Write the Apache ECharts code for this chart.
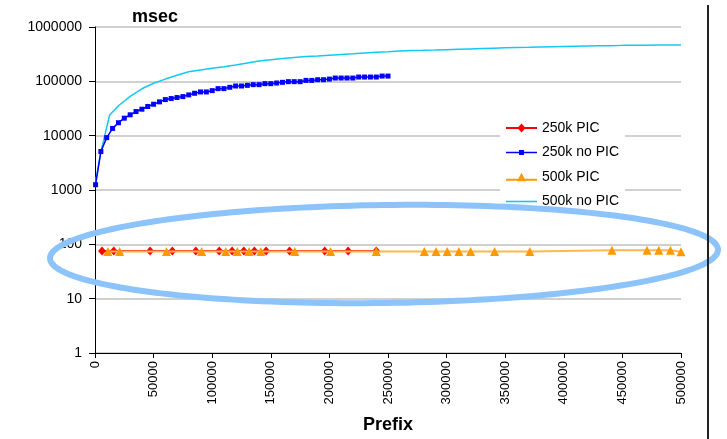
<!DOCTYPE html>
<html>
<head>
<meta charset="utf-8">
<script src="https://cdn.jsdelivr.net/npm/echarts@6/dist/echarts.min.js"></script>
<style>
html,body{margin:0;padding:0;background:#fff;}
#chart{width:727px;height:439px;}
</style>
</head>
<body>
<div id="chart"></div>
<script>
// ---- data ----
var seriesNames = ['250k PIC', '250k no PIC', '500k PIC', '500k no PIC'];
var xTicks = [0, 50000, 100000, 150000, 200000, 250000, 300000, 350000, 400000, 450000, 500000];
var yTicks = [1, 10, 100, 1000, 10000, 100000, 1000000];

var pic250X = [6000, 16000, 47000, 66000, 86000, 106000, 117000, 127000, 136000, 146000, 166000, 196000, 216000, 240000];
var pic250Y = [75, 75, 75, 75, 75, 75, 75, 75, 75, 75, 75, 75, 75, 75];

var noPic250X = [500, 5000, 10000, 15000, 20000, 25000, 30000, 35000, 40000, 45000, 50000, 55000, 60000, 65000, 70000, 75000, 80000, 85000, 90000, 95000, 100000, 105000, 110000, 115000, 120000, 125000, 130000, 135000, 140000, 145000, 150000, 155000, 160000, 165000, 170000, 175000, 180000, 185000, 190000, 195000, 200000, 205000, 210000, 215000, 220000, 225000, 230000, 235000, 240000, 245000, 250000];
var noPic250Y = [1250, 5100, 9200, 13600, 17300, 21000, 24200, 27800, 30700, 34400, 37900, 41900, 46100, 48200, 50300, 52400, 56300, 60300, 63800, 63800, 67400, 73400, 73400, 77600, 82100, 82100, 84400, 86900, 86900, 90600, 90600, 93200, 95800, 98600, 98600, 98600, 104000, 104000, 107000, 107000, 110000, 115000, 115000, 115000, 115000, 120000, 120000, 120000, 120000, 125000, 125000];

var pic500X = [11000, 21000, 61000, 91000, 111500, 121500, 131500, 141500, 170500, 201000, 240000, 281000, 291000, 300500, 310500, 320500, 341000, 371000, 441000, 471000, 481000, 491000, 500000];
var pic500Y = [74, 74, 74, 74, 74, 74, 74, 74, 74, 74, 74, 74, 74, 74, 74, 74, 74, 74, 78, 78, 78, 78, 73];

var noPic500X = [0, 5000, 12500, 20000, 30000, 40000, 50000, 60000, 70000, 80000, 90000, 100000, 110000, 120000, 130000, 140000, 150000, 160000, 170000, 180000, 190000, 200000, 210000, 220000, 230000, 240000, 250000, 260000, 270000, 280000, 290000, 300000, 310000, 320000, 330000, 340000, 350000, 360000, 370000, 380000, 390000, 400000, 410000, 420000, 430000, 440000, 450000, 460000, 470000, 480000, 490000, 500000];
var noPic500Y = [1250, 5000, 24000, 35500, 53000, 73000, 92000, 110000, 129000, 150000, 162000, 174000, 186000, 200000, 218000, 237000, 250000, 262000, 275000, 285000, 293000, 303000, 312000, 321000, 332000, 342000, 350000, 362000, 368000, 372000, 377000, 383000, 389000, 395000, 401000, 407000, 413000, 418000, 422000, 427000, 431000, 436000, 441000, 445000, 450000, 454000, 459000, 461000, 463000, 465000, 467000, 468000];

function zip(xs, ys) { return xs.map(function (x, i) { return [x, ys[i]]; }); }

// annotation ellipse outline (not data), slightly tilted
function ellipsePoints(cx, cy, rx, ry, slope, n) {
  var pts = [];
  var s = Math.sin(Math.atan(slope)), c = Math.cos(Math.atan(slope));
  for (var i = 0; i < n; i++) {
    var a = 2 * Math.PI * i / n;
    var dx = rx * Math.cos(a), dy = ry * Math.sin(a);
    pts.push([cx + dx * c - dy * s, cy + dx * s + dy * c]);
  }
  return pts;
}

// legend icons: line with its marker (bounding box keeps aspect)
var legendIcons = [
  'path://M0,3.6L31,3.6L31,5.4L0,5.4Z M15.5,0L19.5,4.5L15.5,9L11.5,4.5Z',
  'path://M0,1.8L31,1.8L31,3.2L0,3.2Z M13,0L18,0L18,5L13,5Z',
  'path://M0,6L31,6L31,8L0,8Z M15.5,0L20,8.5L11,8.5Z',
  'path://M0,0L31,0L31,1.6L0,1.6Z'
];

var chart = echarts.init(document.getElementById('chart'), null, {renderer: 'canvas'});
var font = 'Liberation Sans, Arial, sans-serif';

chart.setOption({
  animation: false,
  backgroundColor: '#ffffff',
  title: {
    text: 'msec',
    left: 127,
    top: 3,
    textStyle: {fontFamily: font, fontSize: 18, fontWeight: 'bold', color: '#000'}
  },
  legend: {
    orient: 'vertical',
    left: 500,
    top: 115,
    padding: [6, 6, 6, 6],
    backgroundColor: '#ffffff',
    itemWidth: 31,
    itemHeight: 14,
    itemGap: 10.5,
    symbolKeepAspect: true,
    data: seriesNames.map(function (n, i) {
      return {name: n, icon: legendIcons[i]};
    }),
    textStyle: {fontFamily: font, fontSize: 14, color: '#000'}
  },
  grid: {left: 95, right: 46, top: 27, bottom: 84, containLabel: false},
  xAxis: {
    type: 'value',
    min: xTicks[0],
    max: xTicks[xTicks.length - 1],
    interval: xTicks[1] - xTicks[0],
    name: 'Prefix',
    nameLocation: 'middle',
    nameGap: 63,
    nameTextStyle: {fontFamily: font, fontSize: 18, fontWeight: 'bold', color: '#000'},
    axisLine: {lineStyle: {color: '#000', width: 1}},
    axisTick: {show: true, length: 5, lineStyle: {color: '#000'}},
    axisLabel: {rotate: 90, margin: 8, fontFamily: font, fontSize: 13, color: '#000',
      formatter: function (v) { return String(v); }},
    splitLine: {show: false}
  },
  yAxis: {
    type: 'log',
    logBase: 10,
    min: yTicks[0],
    max: yTicks[yTicks.length - 1],
    axisLine: {show: true, lineStyle: {color: '#000', width: 1}},
    axisTick: {show: true, length: 6, lineStyle: {color: '#000'}},
    axisLabel: {margin: 13, fontFamily: font, fontSize: 14, color: '#000',
      formatter: function (v) { return String(Math.round(v)); }},
    splitLine: {show: true, lineStyle: {color: '#d0d0d0', width: 2}},
    minorTick: {show: false}
  },
  series: [
    {
      name: seriesNames[0], type: 'line', data: zip(pic250X, pic250Y),
      symbol: 'diamond', symbolSize: [8, 9],
      itemStyle: {color: '#ff0000'},
      lineStyle: {color: '#ff0000', width: 2},
      z: 3
    },
    {
      name: seriesNames[1], type: 'line', data: zip(noPic250X, noPic250Y),
      symbol: 'rect', symbolSize: 5,
      itemStyle: {color: '#0000ff'},
      lineStyle: {color: '#0000ff', width: 1.5},
      z: 3
    },
    {
      name: seriesNames[2], type: 'line', data: zip(pic500X, pic500Y),
      symbol: 'triangle', symbolSize: [9, 9],
      itemStyle: {color: '#ff9900'},
      lineStyle: {color: '#ffb84d', width: 2},
      z: 4
    },
    {
      name: seriesNames[3], type: 'line', data: zip(noPic500X, noPic500Y),
      symbol: 'none', showSymbol: false,
      itemStyle: {color: '#14c8f5'},
      lineStyle: {color: '#14c8f5', width: 1.5},
      z: 2
    }
  ],
  graphic: [
    {
      type: 'polygon', z: 100, silent: true,
      shape: {points: ellipsePoints(384, 254, 334, 49, -0.013, 200)},
      style: {fill: 'none', stroke: '#8cc3fa', lineWidth: 6}
    },
    {
      type: 'rect', z: 100, silent: true,
      shape: {x: 707, y: 5, width: 2, height: 440},
      style: {fill: '#222222'}
    }
  ]
});
</script>
</body>
</html>
